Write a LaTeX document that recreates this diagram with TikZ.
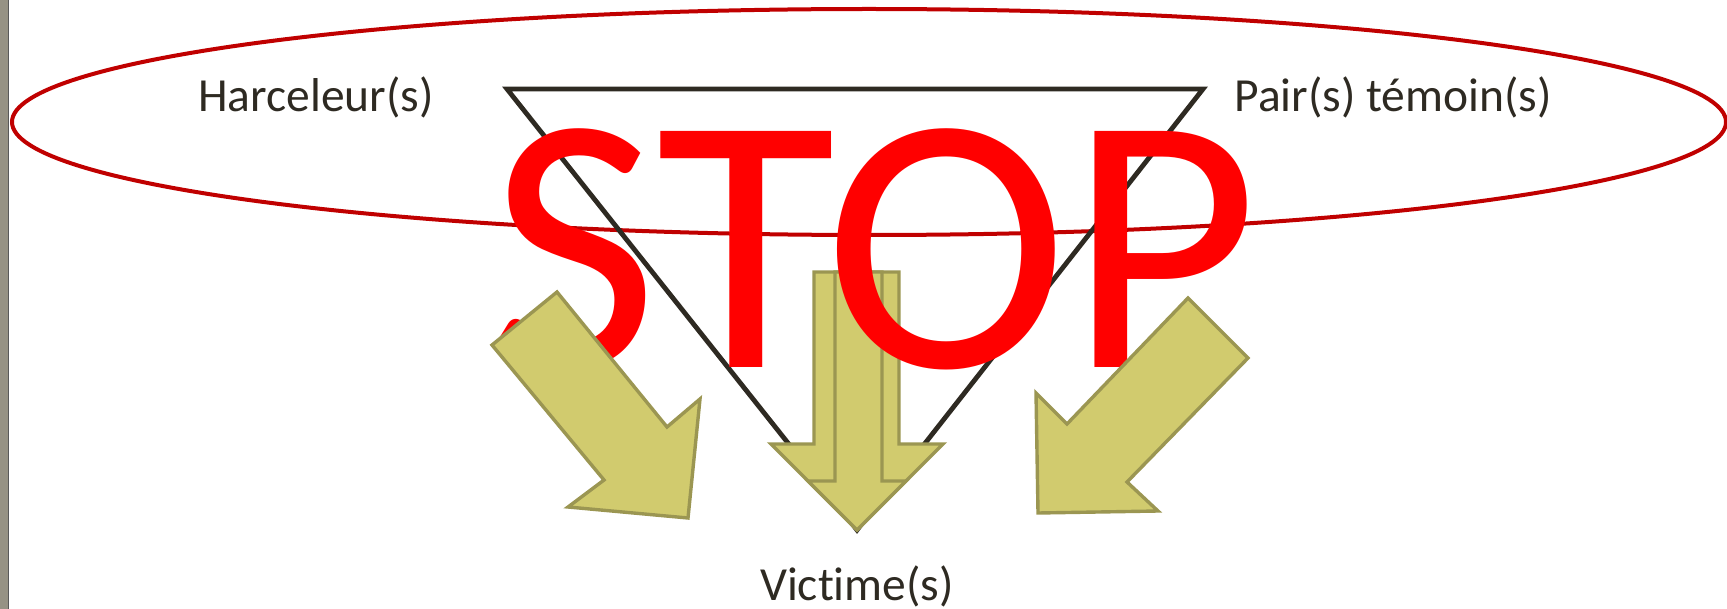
\documentclass[tikz,border=0pt]{standalone}
\usepackage{fontspec}
\setmainfont{Carlito}[Ligatures=NoCommon]
\definecolor{txtgray}{RGB}{46,42,34}
\definecolor{ovalred}{RGB}{192,0,0}
\definecolor{stopred}{RGB}{255,0,0}
\definecolor{olivefill}{RGB}{209,203,110}
\definecolor{olivedraw}{RGB}{155,150,82}
\definecolor{stripgray}{RGB}{150,146,132}

\begin{document}
\begin{tikzpicture}[x=0.5pt,y=-0.5pt,line join=miter,
  nametag/.style={anchor=base,inner sep=0pt,text=txtgray,font=\fontsize{23.75}{28}\selectfont},
  bigarrow/.style={fill=olivefill,draw=olivedraw,line width=1.7pt}]
\useasboundingbox (0,0) rectangle (1727,609);
\fill[stripgray] (0,0) rectangle (8,609);
\draw[gray!70!black,line width=0.8pt] (8.5,0) -- (8.5,609);
\draw[ovalred,line width=2pt] (869,122) ellipse [x radius=857,y radius=113];
\node[nametag] (harc) at (316,112) {Harceleur(s)};
\node[nametag] (pair) at (1393,112) {Pair(s) témoin(s)};
\node[nametag] (vict) at (857,600) {Victime(s)};
\coordinate (tl) at (507,89);
\coordinate (tr) at (1203,89);
\coordinate (bt) at (857,530);
\draw[txtgray,line width=2.4pt] (tl) -- (tr) -- (bt) -- cycle;
% fleche du milieu, en double
\draw[bigarrow] (814,272) -- (899,272) -- (899,444) -- (943,444) -- (857,530) -- (771,444) -- (814,444) -- cycle;
\draw[bigarrow] (835,272) -- (882,272) -- (882,481) -- (906,481) -- (857,530) -- (808,481) -- (835,481) -- cycle;
\node[anchor=base,inner sep=0pt,text=stopred,font=\fontsize{184}{184}\selectfont] (stop) at (874,367) {STOP};
\draw[bigarrow] (492,345) -- (557,292) -- (667,427) -- (700,399) -- (688,518) -- (568,507) -- (604,480) -- cycle;
\draw[bigarrow] (1188,298) -- (1248,358) -- (1127,482) -- (1158,511) -- (1038,513) -- (1036,393) -- (1067,424) -- cycle;
\end{tikzpicture}
\end{document}
